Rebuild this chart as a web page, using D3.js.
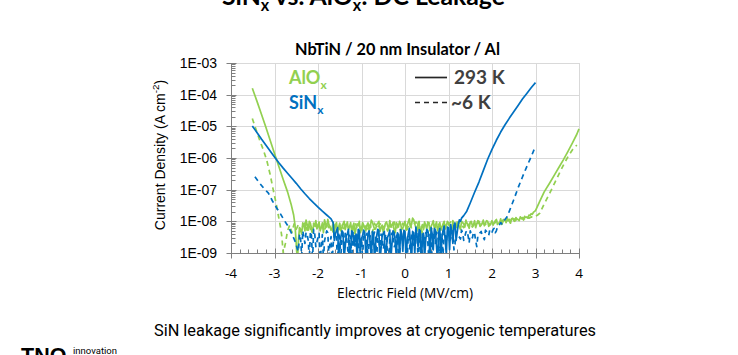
<!DOCTYPE html>
<html><head><meta charset="utf-8">
<script src="https://cdn.jsdelivr.net/npm/d3@7"></script>
<style>body{margin:0;background:#fff}svg{display:block}</style>
</head><body>
<svg id="c" width="738" height="355"></svg>
<script>
// ---------- DATA ----------
const fieldTicks = [-4, -3, -2, -1, 0, 1, 2, 3, 4];
const densityTicks = [1e-3, 1e-4, 1e-5, 1e-6, 1e-7, 1e-8, 1e-9];
const densityTickLabels = ["1E-03", "1E-04", "1E-05", "1E-06", "1E-07", "1E-08", "1E-09"];
const materials = ["AlO", "SiN"];
const temperatures = ["293 K", "~6 K"];

// [electric field (MV/cm), log10 current density (A/cm^2)]
const alox293K = [
[-3.51,-3.80],[-3.40,-4.22],[-3.30,-4.62],[-3.20,-5.02],[-3.10,-5.44],[-3.00,-5.86],[-2.90,-6.27],[-2.80,-6.68],[-2.70,-7.07],[-2.62,-7.45],[-2.56,-7.80],[-2.53,-8.10],[-2.51,-8.50],[-2.49,-8.95],[-2.47,-9.20],
[-2.45,-8.60],[-2.40,-8.25],[-2.35,-8.05],[-2.30,-8.30],[-2.25,-8.10],[-2.20,-8.00],[-2.15,-8.22],[-2.10,-8.08],[-2.05,-7.98],[-2.00,-8.15],
[-1.95,-8.30],[-1.90,-8.05],[-1.85,-7.95],[-1.80,-8.18],[-1.75,-8.10],[-1.70,-8.28],[-1.65,-8.02],[-1.60,-8.12],[-1.55,-8.35],[-1.50,-8.06],
[-1.45,-8.20],[-1.40,-8.00],[-1.35,-8.14],[-1.30,-8.26],[-1.25,-8.04],[-1.20,-8.16],[-1.15,-8.40],[-1.10,-8.08],[-1.05,-8.00],[-1.00,-8.22],
[-0.95,-8.12],[-0.90,-8.30],[-0.85,-8.05],[-0.80,-8.18],[-0.75,-8.02],[-0.70,-8.25],[-0.65,-8.10],[-0.60,-8.00],[-0.55,-8.20],[-0.50,-8.34],
[-0.45,-8.06],[-0.40,-8.15],[-0.35,-7.98],[-0.30,-8.12],[-0.25,-8.28],[-0.20,-8.04],[-0.15,-8.18],[-0.10,-8.08],[-0.05,-8.22],[0.00,-8.00],
[0.05,-8.12],[0.10,-7.92],[0.15,-8.10],[0.20,-7.95],[0.25,-8.20],[0.30,-8.05],[0.35,-8.60],[0.40,-8.10],[0.45,-8.02],[0.50,-8.24],
[0.55,-8.08],[0.60,-8.16],[0.65,-7.98],[0.70,-8.12],[0.75,-8.30],[0.80,-8.04],[0.85,-8.18],[0.90,-8.00],[0.95,-8.14],[1.00,-8.06],
[1.05,-8.22],[1.10,-7.98],[1.15,-8.10],[1.20,-8.02],[1.25,-8.16],[1.30,-8.00],[1.35,-8.08],[1.40,-7.96],[1.45,-8.12],[1.50,-8.02],
[1.55,-8.15],[1.60,-7.98],[1.65,-8.08],[1.70,-8.00],[1.75,-8.12],[1.80,-7.96],[1.85,-8.06],[1.90,-8.00],[1.95,-8.10],[2.00,-7.98],
[2.05,-8.04],[2.10,-7.94],[2.15,-8.06],[2.20,-7.92],[2.25,-8.02],[2.30,-7.96],[2.35,-7.90],[2.40,-8.00],[2.45,-7.92],[2.50,-7.98],
[2.55,-7.88],[2.60,-7.94],[2.65,-7.86],[2.70,-7.92],[2.75,-7.84],[2.80,-7.86],[2.85,-7.80],[2.90,-7.76],[2.95,-7.72],
[3.00,-7.66],[3.10,-7.36],[3.20,-7.07],[3.33,-6.78],[3.45,-6.50],[3.55,-6.27],[3.64,-6.06],[3.75,-5.78],[3.85,-5.52],[3.95,-5.25],[4.00,-5.08]
];
// intermediate readings of the 293 K AlOx noise floor
const alox293KFloorMid = [
[-2.425,-8.20],[-2.375,-8.40],[-2.325,-8.12],[-2.275,-7.96],[-2.225,-8.28],[-2.175,-8.06],[-2.125,-8.34],[-2.075,-8.14],[-2.025,-8.24],[-1.975,-8.02],
[-1.925,-8.20],[-1.875,-8.36],[-1.825,-8.08],[-1.775,-7.94],[-1.725,-8.16],[-1.675,-8.22],[-1.625,-8.40],[-1.575,-8.04],[-1.525,-8.18],[-1.475,-8.30],
[-1.425,-8.08],[-1.375,-8.26],[-1.325,-8.02],[-1.275,-8.18],[-1.225,-8.32],[-1.175,-8.06],[-1.125,-8.22],[-1.075,-8.14],[-1.025,-8.36],[-0.975,-8.04],
[-0.925,-8.20],[-0.875,-8.12],[-0.825,-8.30],[-0.775,-7.96],[-0.725,-8.14],[-0.675,-8.24],[-0.625,-8.06],[-0.575,-8.32],[-0.525,-8.12],[-0.475,-8.22],
[-0.425,-8.02],[-0.375,-8.26],[-0.325,-8.18],[-0.275,-8.04],[-0.225,-8.36],[-0.175,-8.10],[-0.125,-8.00],[-0.075,-8.26],[-0.025,-8.10],[0.025,-8.28],
[0.075,-8.02],[0.125,-8.18],[0.175,-7.90],[0.225,-8.08],[0.275,-8.30],[0.325,-8.00],[0.375,-8.20],[0.425,-8.26],[0.475,-8.12],[0.525,-8.02],
[0.575,-8.30],[0.625,-8.08],[0.675,-8.20],[0.725,-8.02],[0.775,-8.16],[0.825,-8.28],[0.875,-8.08],[0.925,-8.24],[0.975,-8.00],[1.025,-8.14],
[1.075,-8.30],[1.125,-8.06],[1.175,-8.20],[1.225,-8.08],[1.275,-8.26],[1.325,-8.04],[1.375,-8.18],[1.425,-8.06],[1.475,-8.22],[1.525,-8.00],
[1.575,-8.10],[1.625,-8.20],[1.675,-7.98],[1.725,-8.16],[1.775,-8.06],[1.825,-8.14],[1.875,-7.98],[1.925,-8.16],[1.975,-8.06],[2.025,-8.12],
[2.075,-7.98],[2.125,-8.10],[2.175,-8.04],[2.225,-8.10],[2.275,-7.94],[2.325,-8.04],[2.375,-7.96],[2.425,-8.06],[2.475,-7.90],[2.525,-8.00],
[2.575,-7.94],[2.625,-7.98],[2.675,-7.90],[2.725,-7.96],[2.775,-7.88],[2.825,-7.90],[2.875,-7.82],[2.925,-7.78]
];
const alox6K = [
[-3.51,-4.75],[-3.43,-5.08],[-3.35,-5.40],[-3.26,-5.73],[-3.18,-6.06],[-3.10,-6.52],[-3.03,-7.00],[-2.96,-7.45],[-2.90,-7.90],[-2.86,-8.20],[-2.83,-8.50],[-2.80,-9.00],
[-2.75,-8.70],[-2.70,-8.30],[-2.65,-8.12],[-2.60,-8.35],[-2.55,-8.08],[-2.50,-8.25],[-2.45,-8.10],[-2.40,-8.32],[-2.35,-8.15],[-2.30,-8.05],
[-2.25,-8.28],[-2.20,-8.12],[-2.15,-8.38],[-2.10,-8.06],[-2.05,-8.20],[-2.00,-8.10],[-1.95,-8.25],[-1.90,-8.14],[-1.85,-8.32],[-1.80,-8.05],
[-1.75,-8.20],[-1.70,-8.12],[-1.65,-8.36],[-1.60,-8.08],[-1.55,-8.18],[-1.50,-8.26],[-1.45,-8.10],[-1.40,-8.30],[-1.35,-8.06],[-1.30,-8.20],
[-1.25,-8.14],[-1.20,-8.28],[-1.15,-8.04],[-1.10,-8.22],[-1.05,-8.12],[-1.00,-8.34],[-0.95,-8.08],[-0.90,-8.18],[-0.85,-8.26],[-0.80,-8.10],
[-0.75,-8.36],[-0.70,-8.06],[-0.65,-8.22],[-0.60,-8.14],[-0.55,-8.04],[-0.50,-8.20],[-0.45,-8.12],[-0.40,-8.30],[-0.35,-8.08],[-0.30,-8.18],
[-0.25,-8.02],[-0.20,-8.24],[-0.15,-8.10],[-0.10,-8.32],[-0.05,-8.06],[0.00,-8.16],[0.05,-8.26],[0.10,-8.04],[0.15,-8.20],[0.20,-8.10],
[0.25,-8.02],[0.30,-8.24],[0.35,-8.12],[0.40,-8.36],[0.45,-8.08],[0.50,-8.16],[0.55,-8.04],[0.60,-8.28],[0.65,-8.10],[0.70,-8.20],
[0.75,-8.06],[0.80,-8.14],[0.85,-8.24],[0.90,-8.08],[0.95,-8.18],[1.00,-8.10],[1.05,-8.02],[1.10,-8.20],[1.15,-8.08],[1.20,-8.16],
[1.25,-8.04],[1.30,-8.12],[1.35,-8.20],[1.40,-8.06],[1.45,-8.14],[1.50,-8.04],[1.55,-8.18],[1.60,-8.08],[1.65,-8.12],[1.70,-8.02],
[1.75,-8.14],[1.80,-8.06],[1.85,-8.10],[1.90,-8.00],[1.95,-8.12],[2.00,-8.04],[2.05,-8.08],[2.10,-7.98],[2.15,-8.06],[2.20,-8.02],
[2.25,-7.96],[2.30,-8.04],[2.35,-7.98],[2.40,-7.94],[2.45,-8.00],[2.50,-7.92],[2.55,-7.96],[2.60,-7.90],[2.65,-7.94],[2.70,-7.88],
[2.75,-7.92],[2.80,-7.86],[2.85,-7.90],[2.90,-7.86],[2.95,-7.88],
[3.00,-7.84],[3.05,-7.80],[3.10,-7.74],[3.20,-7.45],[3.33,-7.10],[3.45,-6.76],[3.55,-6.48],[3.65,-6.20],[3.75,-5.95],[3.85,-5.74],[3.95,-5.59]
];
const sin293K = [
[-3.51,-4.99],[-3.40,-5.20],[-3.30,-5.40],[-3.20,-5.59],[-3.10,-5.78],[-3.00,-5.97],[-2.90,-6.15],[-2.80,-6.32],[-2.70,-6.48],[-2.60,-6.64],
[-2.50,-6.80],[-2.40,-6.97],[-2.30,-7.13],[-2.20,-7.28],[-2.10,-7.42],[-2.00,-7.55],[-1.90,-7.68],[-1.80,-7.80],[-1.75,-7.86],[-1.70,-7.92],
[-1.65,-8.05],[-1.60,-8.40],[-1.55,-8.20],[-1.50,-8.75],[-1.45,-8.30],[-1.40,-9.20],[-1.35,-8.45],[-1.30,-8.25],[-1.25,-8.90],[-1.20,-8.35],
[-1.15,-8.60],[-1.10,-9.30],[-1.05,-8.30],[-1.00,-8.55],[-0.95,-8.28],[-0.90,-9.10],[-0.85,-8.40],[-0.80,-8.70],[-0.75,-8.32],[-0.70,-9.25],
[-0.65,-8.45],[-0.60,-8.30],[-0.55,-8.85],[-0.50,-8.38],[-0.45,-9.40],[-0.40,-8.50],[-0.35,-8.28],[-0.30,-8.72],[-0.25,-8.35],[-0.20,-9.15],
[-0.15,-8.42],[-0.10,-8.26],[-0.05,-8.95],[0.00,-8.32],[0.05,-8.60],[0.10,-8.22],[0.15,-9.30],[0.20,-8.36],[0.25,-8.18],[0.30,-8.80],
[0.35,-8.30],[0.40,-8.55],[0.45,-9.20],[0.50,-8.25],[0.55,-8.48],[0.60,-8.20],[0.65,-8.90],[0.70,-8.28],[0.75,-9.35],[0.80,-8.22],
[0.85,-8.50],[0.90,-8.15],[0.95,-9.05],[1.00,-8.20],[1.05,-8.10],[1.10,-8.70],[1.15,-8.05],[1.20,-8.35],[1.25,-7.95],[1.30,-7.90],
[1.35,-7.82],[1.42,-7.68],[1.50,-7.42],[1.60,-7.08],[1.70,-6.76],[1.80,-6.40],[1.90,-6.04],[2.00,-5.73],[2.10,-5.44],[2.20,-5.18],
[2.30,-4.95],[2.40,-4.74],[2.50,-4.54],[2.60,-4.34],[2.70,-4.14],[2.80,-3.96],[2.90,-3.78],[3.00,-3.62]
];
const sin293KFloorMid = [
[-1.625,-8.60],[-1.575,-8.30],[-1.525,-9.10],[-1.475,-8.50],[-1.425,-8.35],[-1.375,-8.80],[-1.325,-8.40],[-1.275,-9.20],[-1.225,-8.30],[-1.175,-8.75],
[-1.125,-8.40],[-1.075,-8.25],[-1.025,-9.00],[-0.975,-8.45],[-0.925,-8.35],[-0.875,-8.85],[-0.825,-8.30],[-0.775,-9.15],[-0.725,-8.38],[-0.675,-8.70],
[-0.625,-8.25],[-0.575,-9.30],[-0.525,-8.45],[-0.475,-8.32],[-0.425,-8.78],[-0.375,-8.42],[-0.325,-9.20],[-0.275,-8.30],[-0.225,-8.60],[-0.175,-8.36],
[-0.125,-9.10],[-0.075,-8.40],[-0.025,-8.28],[0.025,-9.25],[0.075,-8.40],[0.125,-8.70],[0.175,-8.32],[0.225,-9.05],[0.275,-8.44],[0.325,-8.26],
[0.375,-9.30],[0.425,-8.38],[0.475,-8.62],[0.525,-8.30],[0.575,-9.15],[0.625,-8.40],[0.675,-8.22],[0.725,-8.80],[0.775,-8.35],[0.825,-9.20],
[0.875,-8.28],[0.925,-8.60],[0.975,-8.18],[1.025,-8.90],[1.075,-8.30],[1.125,-8.12],[1.175,-8.60],[1.225,-8.10],[1.275,-8.00]
];
const sin6K = [
[-3.45,-6.59],[-3.35,-6.78],[-3.25,-6.95],[-3.14,-7.11],[-3.05,-7.35],[-2.95,-7.58],[-2.87,-7.75],[-2.78,-7.96],[-2.68,-8.17],[-2.60,-8.40],[-2.52,-8.65],[-2.48,-8.85],
[-2.45,-8.95],[-2.40,-8.55],[-2.35,-8.30],[-2.30,-8.70],[-2.25,-8.40],[-2.20,-9.20],[-2.15,-8.45],[-2.10,-8.25],[-2.05,-8.80],[-2.00,-8.50],
[-1.95,-9.30],[-1.90,-8.42],[-1.85,-8.62],[-1.80,-8.30],[-1.75,-9.10],[-1.70,-8.48],[-1.65,-8.70],[-1.60,-8.35],[-1.55,-9.35],[-1.50,-8.55],
[-1.45,-8.40],[-1.40,-8.85],[-1.35,-8.45],[-1.30,-9.20],[-1.25,-8.50],[-1.20,-8.32],[-1.15,-8.78],[-1.10,-8.44],[-1.05,-9.25],[-1.00,-8.52],
[-0.95,-8.36],[-0.90,-8.70],[-0.85,-9.30],[-0.80,-8.46],[-0.75,-8.60],[-0.70,-8.34],[-0.65,-9.15],[-0.60,-8.50],[-0.55,-8.40],[-0.50,-8.88],
[-0.45,-8.46],[-0.40,-9.28],[-0.35,-8.55],[-0.30,-8.38],[-0.25,-8.80],[-0.20,-8.48],[-0.15,-9.20],[-0.10,-8.44],[-0.05,-8.62],[0.00,-8.36],
[0.05,-9.30],[0.10,-8.50],[0.15,-8.40],[0.20,-8.75],[0.25,-8.44],[0.30,-9.18],[0.35,-8.52],[0.40,-8.34],[0.45,-8.82],[0.50,-8.42],
[0.55,-9.25],[0.60,-8.48],[0.65,-8.36],[0.70,-8.70],[0.75,-8.40],[0.80,-9.10],[0.85,-8.46],[0.90,-8.30],[0.95,-8.66],[1.00,-8.38],
[1.05,-8.55],[1.10,-8.30],[1.15,-8.72],[1.20,-8.36],[1.25,-8.50],[1.30,-8.28],[1.35,-8.60],[1.40,-8.34],[1.45,-8.46],[1.50,-8.30],
[1.55,-8.52],[1.60,-8.38],[1.65,-8.80],[1.70,-8.40],[1.75,-8.32],[1.80,-8.50],[1.85,-8.28],[1.90,-8.40],[1.95,-8.26],[2.00,-8.34],
[2.05,-8.22],[2.10,-8.30],[2.15,-8.12],[2.20,-8.04],[2.25,-8.00],[2.30,-7.94],
[2.35,-7.85],[2.41,-7.64],[2.50,-7.32],[2.60,-6.94],[2.70,-6.60],[2.80,-6.27],[2.90,-5.96],[2.99,-5.66]
];
const sin6KFloorMid = [
[-2.425,-8.40],[-2.375,-9.10],[-2.325,-8.50],[-2.275,-8.35],[-2.225,-8.60],[-2.175,-8.32],[-2.125,-9.25],[-2.075,-8.40],[-2.025,-8.65],[-1.975,-8.38],
[-1.925,-8.80],[-1.875,-9.20],[-1.825,-8.45],[-1.775,-8.36],[-1.725,-8.70],[-1.675,-9.30],[-1.625,-8.42],[-1.575,-8.55],[-1.525,-8.34],[-1.475,-9.15],
[-1.425,-8.50],[-1.375,-8.38],[-1.325,-8.72],[-1.275,-8.44],[-1.225,-9.30],[-1.175,-8.40],[-1.125,-8.60],[-1.075,-8.35],[-1.025,-8.80],[-0.975,-9.20],
[-0.925,-8.46],[-0.875,-8.38],[-0.825,-8.66],[-0.775,-9.25],[-0.725,-8.44],[-0.675,-8.52],[-0.625,-8.36],[-0.575,-9.10],[-0.525,-8.48],[-0.475,-8.70],
[-0.425,-8.40],[-0.375,-9.30],[-0.325,-8.46],[-0.275,-8.34],[-0.225,-8.76],[-0.175,-8.42],[-0.125,-9.18],[-0.075,-8.50],[-0.025,-8.38],[0.025,-8.70],
[0.075,-8.44],[0.125,-9.22],[0.175,-8.36],[0.225,-8.58],[0.275,-8.40],[0.325,-8.84],[0.375,-9.30],[0.425,-8.44],[0.475,-8.36],[0.525,-8.66],
[0.575,-8.42],[0.625,-9.20],[0.675,-8.50],[0.725,-8.34],[0.775,-8.78],[0.825,-8.40],[0.875,-9.05],[0.925,-8.44],[0.975,-8.32],[1.025,-8.62],
[1.075,-8.40],[1.125,-8.90],[1.175,-8.34],[1.225,-8.46],[1.275,-8.56],[1.325,-8.36],[1.375,-8.48],[1.425,-8.30],[1.475,-8.68],[1.525,-8.40],
[1.575,-8.34],[1.625,-8.62],[1.675,-8.46],[1.725,-8.36],[1.775,-8.44],[1.825,-8.58],[1.875,-8.32],[1.925,-8.44],[1.975,-8.30],[2.025,-8.26],
[2.075,-8.36],[2.125,-8.18],[2.175,-8.10],[2.225,-8.08],[2.275,-7.98]
];

// ---------- DRAW ----------
const green = "#92D050", blue = "#0070C0";
const svg = d3.select("#c");
const x = d3.scaleLinear().domain([-4, 4]).range([231, 579]);
const y = d3.scaleLog().domain([1e-9, 1e-3]).range([253, 63]);
const byField = (a, b) => d3.sort(a.concat(b), d => d[0]);

function fit(sel, target) {
  const fs = parseFloat(sel.attr("font-size"));
  const w = sel.node().getComputedTextLength();
  sel.attr("font-size", (fs * target / w).toFixed(2));
}

// Title (cut at the top edge, as in the reference)
const title = svg.append("text").attr("x", 363.5).attr("y", 5).attr("text-anchor", "middle")
  .attr("font-family", "Lato, 'Open Sans', sans-serif").attr("font-weight", "bold").attr("font-size", 26).attr("fill", "#000");
title.append("tspan").text("SiN");
title.append("tspan").attr("font-size", "0.65em").attr("dy", 6).text("x");
title.append("tspan").attr("dy", -6).text(" vs. AlO");
title.append("tspan").attr("font-size", "0.65em").attr("dy", 6).text("x");
title.append("tspan").attr("dy", -6).text(": DC Leakage");
fit(title, 283);

// Gridlines
const grid = svg.append("g").attr("stroke", "#d9d9d9").attr("stroke-width", 1);
grid.selectAll(".v").data(fieldTicks).join("line")
  .attr("x1", d => Math.round(x(d)) + 0.5).attr("x2", d => Math.round(x(d)) + 0.5)
  .attr("y1", y(1e-3)).attr("y2", y(1e-9));
grid.selectAll(".h").data(densityTicks).join("line")
  .attr("y1", d => Math.round(y(d)) + 0.5).attr("y2", d => Math.round(y(d)) + 0.5)
  .attr("x1", x(-4)).attr("x2", x(4));

// Chart title
svg.append("text").attr("x", 397.5).attr("y", 55).attr("text-anchor", "middle")
  .attr("font-family", "Lato, 'Open Sans', sans-serif").attr("font-weight", "bold").attr("font-size", 17)
  .attr("fill", "#000").text("NbTiN / 20 nm Insulator / Al").call(s => fit(s, 205));

// Axes lines & ticks
const ax = svg.append("g").attr("stroke", "#7f7f7f").attr("stroke-width", 1);
const x0 = Math.round(x(-4)) + 0.5, yb = Math.round(y(1e-9)) + 0.5;
ax.append("line").attr("x1", x0).attr("x2", x0).attr("y1", y(1e-3)).attr("y2", y(1e-9));
ax.append("line").attr("x1", x(-4)).attr("x2", x(4)).attr("y1", yb).attr("y2", yb);
ax.selectAll(".ym").data(densityTicks).join("line")
  .attr("x1", x0 - 5).attr("x2", x0 + 5)
  .attr("y1", d => Math.round(y(d)) + 0.5).attr("y2", d => Math.round(y(d)) + 0.5);
const yMinor = [];
densityTicks.slice(1).forEach(d => { for (let k = 2; k <= 9; k++) yMinor.push(d * k); });
ax.selectAll(".yn").data(yMinor).join("line")
  .attr("x1", x0).attr("x2", x0 + 4)
  .attr("y1", d => Math.round(y(d)) + 0.5).attr("y2", d => Math.round(y(d)) + 0.5);
ax.selectAll(".xm").data(fieldTicks).join("line")
  .attr("x1", d => Math.round(x(d)) + 0.5).attr("x2", d => Math.round(x(d)) + 0.5)
  .attr("y1", yb - 5).attr("y2", yb + 5);
const xMinor = [];
fieldTicks.slice(0, -1).forEach(d => { for (let k = 1; k <= 4; k++) xMinor.push(d + k * 0.2); });
ax.selectAll(".xn").data(xMinor).join("line")
  .attr("x1", d => Math.round(x(d)) + 0.5).attr("x2", d => Math.round(x(d)) + 0.5)
  .attr("y1", yb - 4).attr("y2", yb);

// Tick labels
svg.append("g").selectAll("text").data(densityTicks).join("text")
  .attr("x", 217).attr("y", d => y(d) + 5).attr("text-anchor", "end")
  .attr("font-family", "'Liberation Sans', Arial, sans-serif").attr("font-size", 14).attr("fill", "#000")
  .text((d, i) => densityTickLabels[i]);
svg.append("g").selectAll("text").data(fieldTicks).join("text")
  .attr("x", d => x(d)).attr("y", 278).attr("text-anchor", "middle")
  .attr("font-family", "'Open Sans', sans-serif").attr("font-size", 13.5).attr("fill", "#000")
  .text(d => d);

// Axis titles
svg.append("text").attr("x", 405).attr("y", 298).attr("text-anchor", "middle")
  .attr("font-family", "'Open Sans', sans-serif").attr("font-size", 14).attr("fill", "#000")
  .text("Electric Field (MV/cm)").call(s => fit(s, 136));
const yt = svg.append("text").attr("transform", "translate(165,155) rotate(-90)").attr("text-anchor", "middle")
  .attr("font-family", "'Liberation Sans', Arial, sans-serif").attr("font-size", 14).attr("fill", "#000");
yt.append("tspan").text("Current Density (A cm");
yt.append("tspan").attr("font-size", "0.7em").attr("dy", -6).text("-2");
yt.append("tspan").attr("dy", 6).text(")");

// Curves
svg.append("clipPath").attr("id", "plot").append("rect")
  .attr("x", x(-4)).attr("y", y(1e-3) - 2).attr("width", x(4) - x(-4) + 2).attr("height", y(1e-9) - y(1e-3) + 2);
const line = d3.line().x(d => x(d[0])).y(d => y(Math.pow(10, d[1])));
const curves = svg.append("g").attr("clip-path", "url(#plot)").attr("fill", "none").attr("stroke-width", 1.7).attr("stroke-linejoin", "round");
const series = [
  { data: alox6K, color: green, dash: "5,4" },
  { data: byField(alox293K, alox293KFloorMid), color: green, dash: null },
  { data: byField(sin6K, sin6KFloorMid), color: blue, dash: "5,4" },
  { data: byField(sin293K, sin293KFloorMid), color: blue, dash: null }
];
curves.selectAll("path").data(series).join("path")
  .attr("d", d => line(d.data)).attr("stroke", d => d.color)
  .attr("stroke-dasharray", d => d.dash);

// Legend: materials
const lg = svg.append("g").attr("font-family", "Lato, 'Open Sans', sans-serif").attr("font-weight", "bold").attr("font-size", 18);
[[materials[0], green, 84], [materials[1], blue, 109]].forEach(([t, c, yy]) => {
  const tx = lg.append("text").attr("x", 289).attr("y", yy).attr("fill", c);
  tx.append("tspan").text(t);
  tx.append("tspan").attr("font-size", 12).attr("dy", 5).text("x");
});
// Legend: temperatures
const lt = svg.append("g");
[[temperatures[0], null, 77, 84, 454], [temperatures[1], "5,4", 102, 109, 451]].forEach(([t, dash, ly, ty, tx]) => {
  lt.append("line").attr("x1", 415).attr("x2", 447).attr("y1", ly + 0.5).attr("y2", ly + 0.5)
    .attr("stroke", "#262626").attr("stroke-width", 1.7).attr("stroke-dasharray", dash);
  lt.append("text").attr("x", tx).attr("y", ty).attr("fill", "#404040")
    .attr("font-family", "Lato, 'Open Sans', sans-serif").attr("font-weight", "bold").attr("font-size", 19).text(t);
});

// Caption
svg.append("text").attr("x", 375).attr("y", 336).attr("text-anchor", "middle")
  .attr("font-family", "Roboto, 'Open Sans', sans-serif").attr("font-size", 17).attr("fill", "#000")
  .attr("textLength", 442).attr("lengthAdjust", "spacingAndGlyphs")
  .text("SiN leakage significantly improves at cryogenic temperatures");

// Logo (cut at the bottom edge, as in the reference)
svg.append("text").attr("x", 21).attr("y", 362.5).attr("font-family", "'Liberation Sans', Arial, sans-serif")
  .attr("font-weight", "900").attr("font-size", 21.5).attr("fill", "#000").text("TNO");
svg.append("text").attr("x", 73).attr("y", 353.5).attr("font-family", "Roboto, sans-serif")
  .attr("font-size", 9.5).attr("textLength", 44).attr("lengthAdjust", "spacingAndGlyphs").attr("fill", "#000").text("innovation");
</script>
</body></html>
